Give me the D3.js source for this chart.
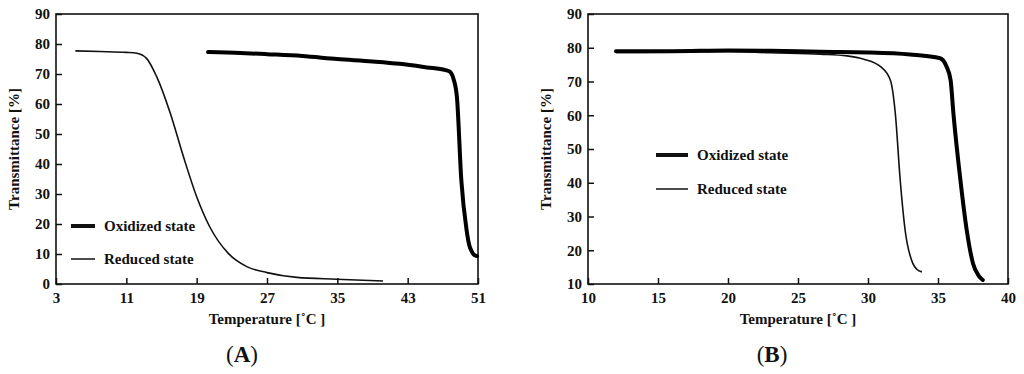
<!DOCTYPE html>
<html><head><meta charset="utf-8">
<script src="https://cdn.jsdelivr.net/npm/d3@7"></script>
<style>
html,body{margin:0;padding:0;background:#fff;}
svg text{font-family:"Liberation Serif","Times New Roman",serif;font-weight:bold;fill:#111;}
</style></head>
<body><svg id="c" width="1024" height="374"></svg>
<script>
// Panel A data
const aXTicks = [3, 11, 19, 27, 35, 43, 51];
const aYTicks = [0, 10, 20, 30, 40, 50, 60, 70, 80, 90];
const aOxidizedT = [20.3, 24, 27, 31, 35, 39, 42.1, 45.2, 47.3, 47.8, 48.2, 48.6, 49.1, 49.7, 50.0, 50.3, 50.6, 50.9];
const aOxidizedV = [77.3, 77.0, 76.6, 76.0, 75.0, 74.2, 73.4, 72.2, 71.3, 70.8, 68.5, 62.4, 34.7, 18.0, 13.0, 10.8, 9.6, 9.3];
const aReducedT = [5.2, 8, 11, 12.2, 13.3, 14.45, 16.0, 17.5, 19.0, 20.5, 22.6, 24.7, 27.0, 30.4, 34.9, 40.2];
const aReducedV = [77.7, 77.5, 77.2, 76.9, 75.2, 69.1, 56.9, 42.4, 29.1, 19.0, 10.2, 5.8, 3.8, 2.2, 1.6, 1.0];
// Panel B data
const bXTicks = [10, 15, 20, 25, 30, 35, 40];
const bYTicks = [10, 20, 30, 40, 50, 60, 70, 80, 90];
const bOxidizedT = [12, 16, 20, 23, 26.6, 30, 33, 35.15, 35.6, 35.9, 36.1, 36.6, 37.05, 37.5, 37.9, 38.2];
const bOxidizedV = [79.0, 79.0, 79.2, 79.1, 78.8, 78.6, 78.0, 76.9, 74.5, 70.4, 60.6, 40.8, 26.0, 16.1, 12.5, 11.2];
const bReducedT = [12, 16, 20, 23, 26.6, 28.5, 29.7, 30.9, 31.6, 31.95, 32.3, 32.65, 33.2, 33.5, 33.85];
const bReducedV = [78.6, 78.7, 78.9, 78.5, 78.1, 77.6, 76.6, 74.4, 70.4, 60.6, 40.8, 26.0, 16.1, 14.3, 13.6];
const seriesNames = ["Oxidized state", "Reduced state"];

const svg = d3.select("#c");

function panel(cfg) {
  const x = d3.scaleLinear().domain(cfg.xDomain).range([cfg.left, cfg.right]);
  const y = d3.scaleLinear().domain(cfg.yDomain).range([cfg.bottom, cfg.top]);
  const g = svg.append("g");
  const xa = g.append("g").attr("transform", `translate(0,${cfg.bottom})`)
    .call(d3.axisBottom(x).tickValues(cfg.xTicks).tickSizeInner(-6).tickSizeOuter(0).tickPadding(8));
  const ya = g.append("g").attr("transform", `translate(${cfg.left},0)`)
    .call(d3.axisLeft(y).tickValues(cfg.yTicks).tickSizeInner(-6).tickSizeOuter(0).tickPadding(6));
  [xa, ya].forEach(a => {
    a.select(".domain").remove();
    a.selectAll(".tick line").attr("stroke", "#111").attr("stroke-width", 1.5);
    a.selectAll(".tick text").style("font-size", "15px").attr("fill", "#111");
  });
  g.append("rect").attr("x", cfg.left).attr("y", cfg.top)
    .attr("width", cfg.right - cfg.left).attr("height", cfg.bottom - cfg.top)
    .attr("fill", "none").attr("stroke", "#111").attr("stroke-width", 1.6);
  const line = d3.line().x(d => x(d[0])).y(d => y(d[1])).curve(d3.curveMonotoneX);
  const red = cfg.redT.map((t, i) => [t, cfg.redV[i]]);
  const ox = cfg.oxT.map((t, i) => [t, cfg.oxV[i]]);
  g.append("path").datum(red).attr("d", line).attr("fill", "none").attr("stroke", "#111").attr("stroke-width", 1.6);
  g.append("path").datum(ox).attr("d", line).attr("fill", "none").attr("stroke", "#000").attr("stroke-width", 4).attr("stroke-linecap", "round");
  // legend
  const L = cfg.legend;
  [4, 1.5].forEach((w, i) => {
    const yy = L.y + i * L.dy;
    g.append("line").attr("x1", L.x).attr("x2", L.x + L.len).attr("y1", yy).attr("y2", yy)
      .attr("stroke", "#111").attr("stroke-width", w);
    g.append("text").attr("x", L.x + L.len + L.gap).attr("y", yy + 5).style("font-size", "15px").text(seriesNames[i]);
  });
  const cx = (cfg.left + cfg.right) / 2;
  g.append("text").attr("x", cx).attr("y", 324).attr("text-anchor", "middle").style("font-size", "15px").text("Temperature [˚C ]");
  g.append("text").attr("transform", `translate(${cfg.left - 37},${(cfg.top + cfg.bottom) / 2}) rotate(-90)`)
    .attr("text-anchor", "middle").style("font-size", "15px").text("Transmittance [%]");
  const lab = g.append("text").attr("x", cfg.labelX).attr("y", 362).attr("text-anchor", "middle").style("font-size", "23px");
  lab.append("tspan").style("font-weight", "normal").text("(");
  lab.append("tspan").text(cfg.label);
  lab.append("tspan").style("font-weight", "normal").text(")");
}

panel({xDomain: [3, 51], yDomain: [0, 90], left: 56, right: 478, top: 14, bottom: 284,
  xTicks: aXTicks, yTicks: aYTicks, oxT: aOxidizedT, oxV: aOxidizedV, redT: aReducedT, redV: aReducedV,
  legend: {x: 71, y: 226, dy: 33, len: 24, gap: 9}, label: "A", labelX: 242});
panel({xDomain: [10, 40], yDomain: [10, 90], left: 588, right: 1008, top: 14, bottom: 284,
  xTicks: bXTicks, yTicks: bYTicks, oxT: bOxidizedT, oxV: bOxidizedV, redT: bReducedT, redV: bReducedV,
  legend: {x: 656, y: 155, dy: 34, len: 32, gap: 9}, label: "B", labelX: 772});
</script></body></html>
